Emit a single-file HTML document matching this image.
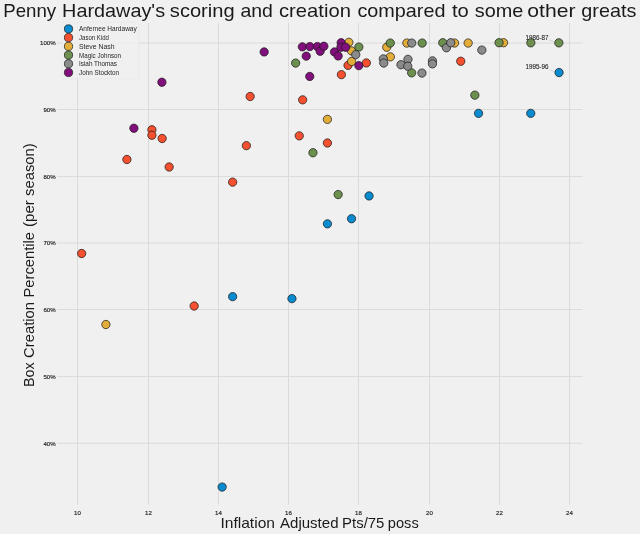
<!DOCTYPE html>
<html><head><meta charset="utf-8"><style>
html,body{margin:0;padding:0;background:#f0f0f0;width:640px;height:534px;overflow:hidden}
svg{display:block;will-change:transform}
text{font-family:"Liberation Sans",sans-serif}
.big{fill:#1a1a1a;stroke:#1a1a1a;stroke-width:0.0px}
.lab{fill:#1a1a1a;stroke:#1a1a1a;stroke-width:0.0px}
.tick{fill:#222;stroke:#222;stroke-width:0.15px;font-size:6.1px}
.leg{fill:#262626;stroke:#262626;stroke-width:0.0px;font-size:7.0px}
.ann{fill:#222;stroke:#222;stroke-width:0.1px;font-size:6.5px}
.g line{stroke:#d8d8d8;stroke-width:0.9px}
.m circle{stroke:rgba(25,25,25,0.72);stroke-width:1.0px}
</style></head><body>
<svg width="640" height="534" viewBox="0 0 640 534">
<rect x="0" y="0" width="640" height="534" fill="#f0f0f0"/>
<g class="g">
<line x1="77.50" y1="23" x2="77.50" y2="504.7"/>
<line x1="148.50" y1="23" x2="148.50" y2="504.7"/>
<line x1="218.50" y1="23" x2="218.50" y2="504.7"/>
<line x1="288.50" y1="23" x2="288.50" y2="504.7"/>
<line x1="358.50" y1="23" x2="358.50" y2="504.7"/>
<line x1="429.50" y1="23" x2="429.50" y2="504.7"/>
<line x1="499.50" y1="23" x2="499.50" y2="504.7"/>
<line x1="569.50" y1="23" x2="569.50" y2="504.7"/>
<line x1="57" y1="43.00" x2="582.5" y2="43.00"/>
<line x1="57" y1="109.50" x2="582.5" y2="109.50"/>
<line x1="57" y1="176.50" x2="582.5" y2="176.50"/>
<line x1="57" y1="243.00" x2="582.5" y2="243.00"/>
<line x1="57" y1="309.50" x2="582.5" y2="309.50"/>
<line x1="57" y1="376.50" x2="582.5" y2="376.50"/>
<line x1="57" y1="443.30" x2="582.5" y2="443.30"/>
</g>
<text class="tick" x="77.50" y="515.2" text-anchor="middle">10</text>
<text class="tick" x="148.50" y="515.2" text-anchor="middle">12</text>
<text class="tick" x="218.50" y="515.2" text-anchor="middle">14</text>
<text class="tick" x="288.50" y="515.2" text-anchor="middle">16</text>
<text class="tick" x="358.50" y="515.2" text-anchor="middle">18</text>
<text class="tick" x="429.50" y="515.2" text-anchor="middle">20</text>
<text class="tick" x="499.50" y="515.2" text-anchor="middle">22</text>
<text class="tick" x="569.50" y="515.2" text-anchor="middle">24</text>
<text class="tick" x="55.6" y="445.60" text-anchor="end">40%</text>
<text class="tick" x="55.6" y="378.80" text-anchor="end">50%</text>
<text class="tick" x="55.6" y="311.80" text-anchor="end">60%</text>
<text class="tick" x="55.6" y="245.30" text-anchor="end">70%</text>
<text class="tick" x="55.6" y="178.80" text-anchor="end">80%</text>
<text class="tick" x="55.6" y="111.80" text-anchor="end">90%</text>
<text class="tick" x="55.6" y="45.30" text-anchor="end">100%</text>
<line x1="549" y1="39.8" x2="554.2" y2="41.7" stroke="#aaaaaa" stroke-width="0.4"/>
<text class="ann" x="525.6" y="39.5" textLength="23" lengthAdjust="spacingAndGlyphs">1986-87</text>
<line x1="549.5" y1="69.8" x2="554.6" y2="71.7" stroke="#aaaaaa" stroke-width="0.4"/>
<text class="ann" x="525.6" y="69" textLength="23" lengthAdjust="spacingAndGlyphs">1995-96</text>
<g class="m">
<circle cx="222.15" cy="487.05" r="4.15" fill="#0a8bd0"/>
<circle cx="232.65" cy="296.65" r="4.15" fill="#0a8bd0"/>
<circle cx="291.95" cy="298.65" r="4.15" fill="#0a8bd0"/>
<circle cx="327.45" cy="223.85" r="4.15" fill="#0a8bd0"/>
<circle cx="351.55" cy="218.75" r="4.15" fill="#0a8bd0"/>
<circle cx="369.05" cy="195.95" r="4.15" fill="#0a8bd0"/>
<circle cx="478.55" cy="113.35" r="4.15" fill="#0a8bd0"/>
<circle cx="530.75" cy="113.35" r="4.15" fill="#0a8bd0"/>
<circle cx="559.05" cy="72.55" r="4.15" fill="#0a8bd0"/>
<circle cx="81.65" cy="253.50" r="4.15" fill="#f5502f"/>
<circle cx="126.90" cy="159.50" r="4.15" fill="#f5502f"/>
<circle cx="151.90" cy="129.75" r="4.15" fill="#f5502f"/>
<circle cx="151.90" cy="135.25" r="4.15" fill="#f5502f"/>
<circle cx="162.15" cy="138.50" r="4.15" fill="#f5502f"/>
<circle cx="169.15" cy="167.00" r="4.15" fill="#f5502f"/>
<circle cx="194.15" cy="306.00" r="4.15" fill="#f5502f"/>
<circle cx="232.65" cy="182.15" r="4.15" fill="#f5502f"/>
<circle cx="246.40" cy="145.65" r="4.15" fill="#f5502f"/>
<circle cx="250.15" cy="96.50" r="4.15" fill="#f5502f"/>
<circle cx="299.25" cy="135.85" r="4.15" fill="#f5502f"/>
<circle cx="302.65" cy="99.85" r="4.15" fill="#f5502f"/>
<circle cx="327.40" cy="143.00" r="4.15" fill="#f5502f"/>
<circle cx="341.40" cy="74.65" r="4.15" fill="#f5502f"/>
<circle cx="348.05" cy="65.35" r="4.15" fill="#f5502f"/>
<circle cx="366.35" cy="62.95" r="4.15" fill="#f5502f"/>
<circle cx="460.75" cy="61.25" r="4.15" fill="#f5502f"/>
<circle cx="105.90" cy="324.50" r="4.15" fill="#e3ad3a"/>
<circle cx="327.40" cy="119.35" r="4.15" fill="#e3ad3a"/>
<circle cx="348.85" cy="42.35" r="4.15" fill="#e3ad3a"/>
<circle cx="351.45" cy="50.85" r="4.15" fill="#e3ad3a"/>
<circle cx="351.65" cy="61.45" r="4.15" fill="#e3ad3a"/>
<circle cx="386.75" cy="47.25" r="4.15" fill="#e3ad3a"/>
<circle cx="390.35" cy="56.85" r="4.15" fill="#e3ad3a"/>
<circle cx="406.85" cy="43.05" r="4.15" fill="#e3ad3a"/>
<circle cx="454.55" cy="43.05" r="4.15" fill="#e3ad3a"/>
<circle cx="468.15" cy="43.05" r="4.15" fill="#e3ad3a"/>
<circle cx="503.55" cy="42.75" r="4.15" fill="#e3ad3a"/>
<circle cx="295.65" cy="63.05" r="4.15" fill="#6d904f"/>
<circle cx="312.95" cy="152.75" r="4.15" fill="#6d904f"/>
<circle cx="338.15" cy="194.55" r="4.15" fill="#6d904f"/>
<circle cx="358.85" cy="47.05" r="4.15" fill="#6d904f"/>
<circle cx="390.25" cy="43.05" r="4.15" fill="#6d904f"/>
<circle cx="411.65" cy="72.85" r="4.15" fill="#6d904f"/>
<circle cx="422.15" cy="43.05" r="4.15" fill="#6d904f"/>
<circle cx="442.75" cy="42.75" r="4.15" fill="#6d904f"/>
<circle cx="474.85" cy="95.15" r="4.15" fill="#6d904f"/>
<circle cx="499.05" cy="42.75" r="4.15" fill="#6d904f"/>
<circle cx="530.85" cy="42.85" r="4.15" fill="#6d904f"/>
<circle cx="558.85" cy="42.85" r="4.15" fill="#6d904f"/>
<circle cx="355.75" cy="54.65" r="4.15" fill="#8b8b8b"/>
<circle cx="383.35" cy="58.85" r="4.15" fill="#8b8b8b"/>
<circle cx="383.75" cy="63.05" r="4.15" fill="#8b8b8b"/>
<circle cx="400.95" cy="64.75" r="4.15" fill="#8b8b8b"/>
<circle cx="407.95" cy="59.35" r="4.15" fill="#8b8b8b"/>
<circle cx="407.75" cy="66.25" r="4.15" fill="#8b8b8b"/>
<circle cx="411.75" cy="43.05" r="4.15" fill="#8b8b8b"/>
<circle cx="421.95" cy="73.05" r="4.15" fill="#8b8b8b"/>
<circle cx="432.45" cy="60.85" r="4.15" fill="#8b8b8b"/>
<circle cx="432.45" cy="63.85" r="4.15" fill="#8b8b8b"/>
<circle cx="446.45" cy="47.75" r="4.15" fill="#8b8b8b"/>
<circle cx="450.75" cy="42.75" r="4.15" fill="#8b8b8b"/>
<circle cx="481.85" cy="50.05" r="4.15" fill="#8b8b8b"/>
<circle cx="133.90" cy="128.25" r="4.15" fill="#810f7c"/>
<circle cx="161.90" cy="82.25" r="4.15" fill="#810f7c"/>
<circle cx="264.15" cy="51.95" r="4.15" fill="#810f7c"/>
<circle cx="302.35" cy="46.85" r="4.15" fill="#810f7c"/>
<circle cx="306.25" cy="56.15" r="4.15" fill="#810f7c"/>
<circle cx="309.85" cy="46.55" r="4.15" fill="#810f7c"/>
<circle cx="309.75" cy="76.45" r="4.15" fill="#810f7c"/>
<circle cx="317.35" cy="46.55" r="4.15" fill="#810f7c"/>
<circle cx="320.15" cy="51.25" r="4.15" fill="#810f7c"/>
<circle cx="323.90" cy="46.25" r="4.15" fill="#810f7c"/>
<circle cx="334.45" cy="51.95" r="4.15" fill="#810f7c"/>
<circle cx="338.15" cy="55.95" r="4.15" fill="#810f7c"/>
<circle cx="341.15" cy="42.75" r="4.15" fill="#810f7c"/>
<circle cx="340.90" cy="47.25" r="4.15" fill="#810f7c"/>
<circle cx="345.65" cy="47.25" r="4.15" fill="#810f7c"/>
<circle cx="358.85" cy="65.65" r="4.15" fill="#810f7c"/>
</g>
<rect x="62" y="22.3" width="77" height="56.5" rx="1.5" fill="#f0f0f0" fill-opacity="0.8" stroke="#cccccc" stroke-opacity="0.3" stroke-width="0.4"/>
<g class="m">
<circle cx="68.5" cy="28.90" r="4.1" fill="#0a8bd0"/>
<circle cx="68.5" cy="37.62" r="4.1" fill="#f5502f"/>
<circle cx="68.5" cy="46.34" r="4.1" fill="#e3ad3a"/>
<circle cx="68.5" cy="55.06" r="4.1" fill="#6d904f"/>
<circle cx="68.5" cy="63.78" r="4.1" fill="#8b8b8b"/>
<circle cx="68.5" cy="72.50" r="4.1" fill="#810f7c"/>
</g>
<text class="leg" x="79" y="31.40" textLength="57.75" lengthAdjust="spacingAndGlyphs">Anfernee Hardaway</text>
<text class="leg" x="79" y="40.12" textLength="30" lengthAdjust="spacingAndGlyphs">Jason Kidd</text>
<text class="leg" x="79" y="48.84" textLength="35.5" lengthAdjust="spacingAndGlyphs">Steve Nash</text>
<text class="leg" x="79" y="57.56" textLength="42" lengthAdjust="spacingAndGlyphs">Magic Johnson</text>
<text class="leg" x="79" y="66.28" textLength="38" lengthAdjust="spacingAndGlyphs">Isiah Thomas</text>
<text class="leg" x="79" y="75.00" textLength="40" lengthAdjust="spacingAndGlyphs">John Stockton</text>
<text id="w_title_0" class="big" x="3.20" y="16.6" font-size="17.8" textLength="52.95" lengthAdjust="spacingAndGlyphs">Penny</text>
<text id="w_title_1" class="big" x="62.10" y="16.6" font-size="17.8" textLength="102.98" lengthAdjust="spacingAndGlyphs">Hardaway&#39;s</text>
<text id="w_title_2" class="big" x="169.85" y="16.6" font-size="17.8" textLength="64.80" lengthAdjust="spacingAndGlyphs">scoring</text>
<text id="w_title_3" class="big" x="240.40" y="16.6" font-size="17.8" textLength="32.50" lengthAdjust="spacingAndGlyphs">and</text>
<text id="w_title_4" class="big" x="279.00" y="16.6" font-size="17.8" textLength="71.90" lengthAdjust="spacingAndGlyphs">creation</text>
<text id="w_title_5" class="big" x="357.40" y="16.6" font-size="17.8" textLength="88.10" lengthAdjust="spacingAndGlyphs">compared</text>
<text id="w_title_6" class="big" x="452.00" y="16.6" font-size="17.8" textLength="16.80" lengthAdjust="spacingAndGlyphs">to</text>
<text id="w_title_7" class="big" x="474.80" y="16.6" font-size="17.8" textLength="48.60" lengthAdjust="spacingAndGlyphs">some</text>
<text id="w_title_8" class="big" x="527.35" y="16.6" font-size="17.8" textLength="48.20" lengthAdjust="spacingAndGlyphs">other</text>
<text id="w_title_9" class="big" x="581.35" y="16.6" font-size="17.8" textLength="54.95" lengthAdjust="spacingAndGlyphs">greats</text>
<text id="w_xlabel_0" class="lab" x="220.40" y="528.2" font-size="13.9" textLength="54.60" lengthAdjust="spacingAndGlyphs">Inflation</text>
<text id="w_xlabel_1" class="lab" x="280.00" y="528.2" font-size="13.9" textLength="58.50" lengthAdjust="spacingAndGlyphs">Adjusted</text>
<text id="w_xlabel_2" class="lab" x="342.10" y="528.2" font-size="13.9" textLength="42.30" lengthAdjust="spacingAndGlyphs">Pts/75</text>
<text id="w_xlabel_3" class="lab" x="387.80" y="528.2" font-size="13.9" textLength="30.90" lengthAdjust="spacingAndGlyphs">poss</text>
<text id="w_ylabel_0" class="lab" transform="translate(33.9,387.00) rotate(-90)" x="0" y="0" font-size="13.9" textLength="24.50" lengthAdjust="spacingAndGlyphs">Box</text>
<text id="w_ylabel_1" class="lab" transform="translate(33.9,357.90) rotate(-90)" x="0" y="0" font-size="13.9" textLength="55.90" lengthAdjust="spacingAndGlyphs">Creation</text>
<text id="w_ylabel_2" class="lab" transform="translate(33.9,297.50) rotate(-90)" x="0" y="0" font-size="13.9" textLength="65.50" lengthAdjust="spacingAndGlyphs">Percentile</text>
<text id="w_ylabel_3" class="lab" transform="translate(33.9,227.00) rotate(-90)" x="0" y="0" font-size="13.9" textLength="26.80" lengthAdjust="spacingAndGlyphs">(per</text>
<text id="w_ylabel_4" class="lab" transform="translate(33.9,196.00) rotate(-90)" x="0" y="0" font-size="13.9" textLength="52.70" lengthAdjust="spacingAndGlyphs">season)</text>
</svg>
</body></html>
